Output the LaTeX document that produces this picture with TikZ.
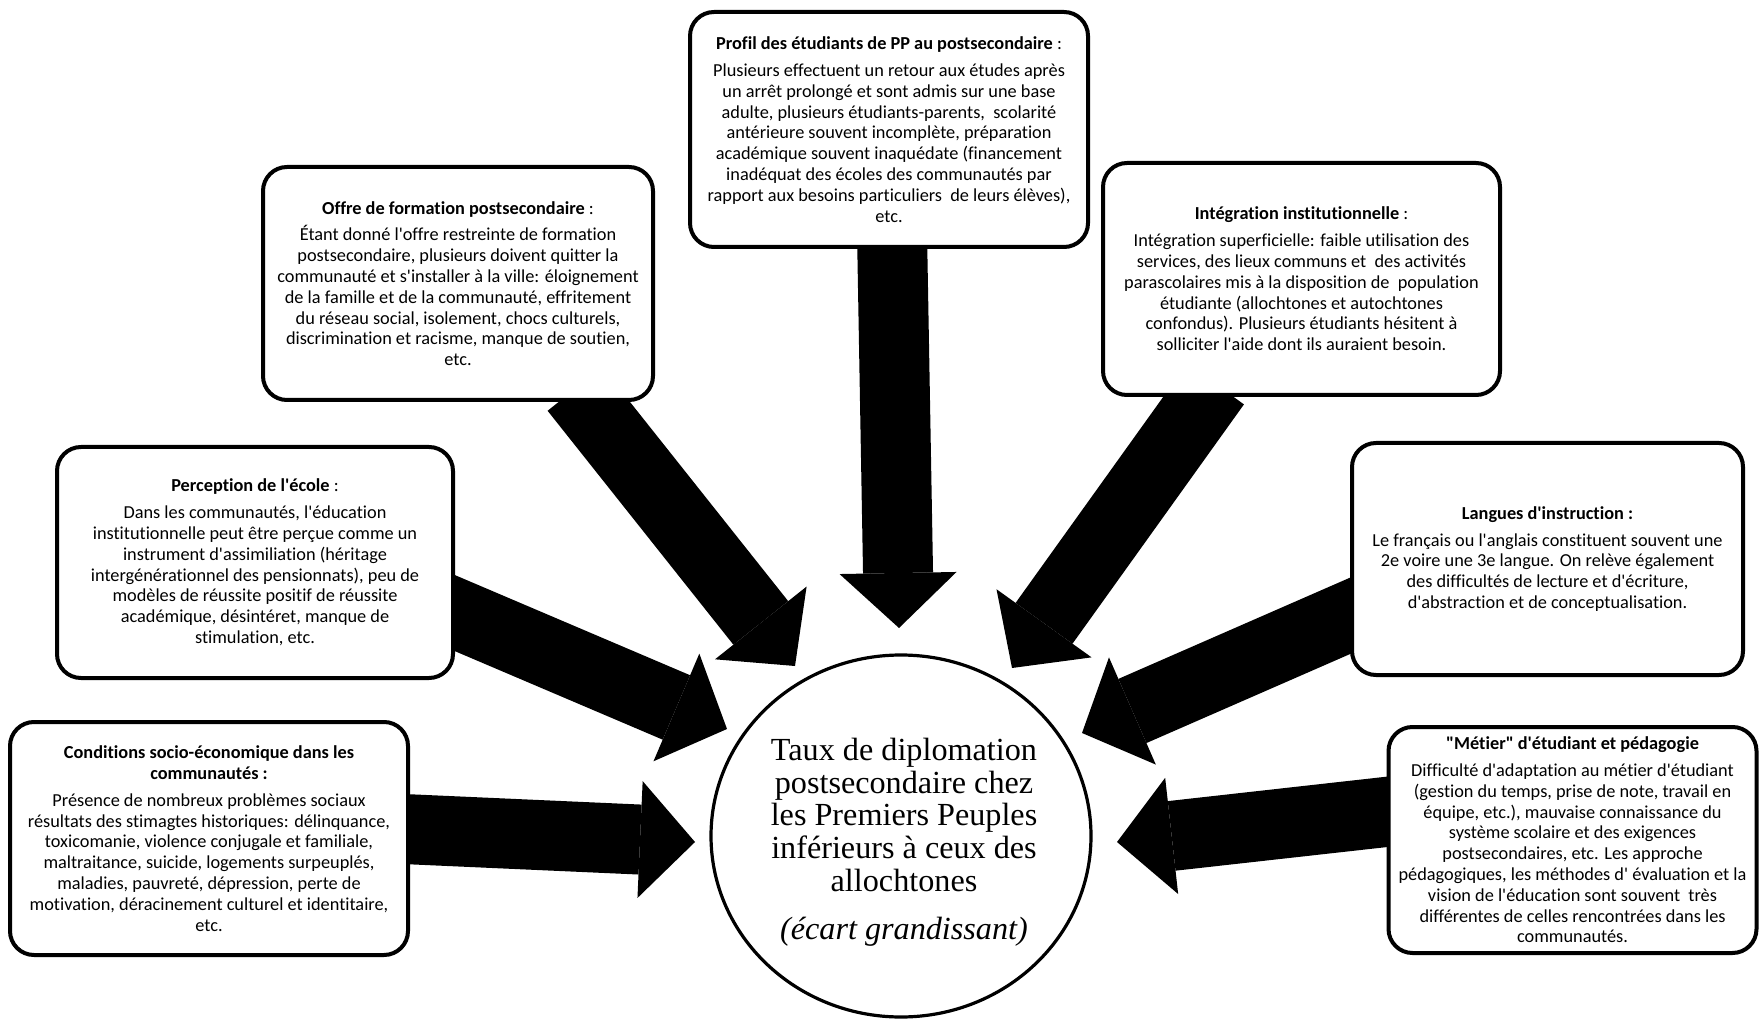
\documentclass[tikz,border=0pt]{standalone}
\usepackage{fontspec}
\setmainfont{Carlito}[Ligatures={TeXOff,NoCommon}]
\newfontfamily\timesfont{Liberation Serif}[Ligatures={TeXOff,NoCommon}]
\usetikzlibrary{shapes.geometric, arrows.meta, calc, backgrounds}

\begin{document}
\begin{tikzpicture}[x=0.5pt, y=-0.5pt,
        factor/.style={draw, line width=2pt, rounded corners=12pt, fill=white, align=center, inner sep=0pt, font=\fontsize{9.15}{10.4}\selectfont},
        bigarrow/.style={line width=35pt, -{Triangle[length=27.5pt, width=58.5pt, line width=0pt]}}]
        \useasboundingbox (0,0) rectangle (1759,1020);

        % --- CENTRE ---
        \node[draw, line width=1.6pt, ellipse, fill=white, minimum width=190pt, minimum height=181pt] (diplo) at (901,836) {};
        \node[align=center, font=\timesfont\fontsize{16.1}{16.4}\selectfont] (diploText) at (904,842) {
            Taux de diplomation\\
            postsecondaire chez\\
            les Premiers Peuples\\
            inférieurs à ceux des\\
            allochtones\\[7.5pt]
            \textit{(écart grandissant)}
        };

        % --- FACTORS ---
        \node[factor, minimum width=199pt, minimum height=117.5pt] (profil) at (889,129.5) {
            \textbf{Profil des étudiants de PP au postsecondaire} :\\[3pt]
            Plusieurs effectuent un retour aux études après\\
            un arrêt prolongé et sont admis sur une base\\
            adulte, plusieurs étudiants-parents, \ scolarité\\
            antérieure souvent incomplète, préparation\\
            académique souvent inaquédate (financement\\
            inadéquat des écoles des communautés par\\
            rapport aux besoins particuliers \ de leurs élèves),\\
            etc.
        };
        \node[factor, minimum width=195pt, minimum height=116.5pt] (offre) at (458,283.5) {
            \textbf{Offre de formation postsecondaire} :\\[3pt]
            Étant donné l'offre restreinte de formation\\
            postsecondaire, plusieurs doivent quitter la\\
            communauté et s'installer à la ville: éloignement\\
            de la famille et de la communauté, effritement\\
            du réseau social, isolement, chocs culturels,\\
            discrimination et racisme, manque de soutien,\\
            etc.
        };
        \node[factor, minimum width=198.5pt, minimum height=116pt] (integ) at (1301.5,279) {
            \textbf{Intégration institutionnelle} :\\[3pt]
            Intégration superficielle: faible utilisation des\\
            services, des lieux communs et \ des activités\\
            parascolaires mis à la disposition de \ population\\
            étudiante (allochtones et autochtones\\
            confondus). Plusieurs étudiants hésitent à\\
            solliciter l'aide dont ils auraient besoin.
        };
        \node[factor, minimum width=198pt, minimum height=115.5pt] (percep) at (255,562.5) {
            \textbf{Perception de l'école} :\\[3pt]
            Dans les communautés, l'éducation\\
            institutionnelle peut être perçue comme un\\
            instrument d'assimiliation (héritage\\
            intergénérationnel des pensionnats), peu de\\
            modèles de réussite positif de réussite\\
            académique, désintéret, manque de\\
            stimulation, etc.
        };
        \node[factor, minimum width=195.5pt, minimum height=116pt] (langues) at (1547.5,559) {
            \textbf{Langues d'instruction :}\\[3pt]
            Le français ou l'anglais constituent souvent une\\
            2e voire une 3e langue. On relève également\\
            des difficultés de lecture et d'écriture,\\
            d'abstraction et de conceptualisation.
        };
        \node[factor, minimum width=199pt, minimum height=116.5pt] (cond) at (209,838.5) {
            \textbf{Conditions socio-économique dans les}\\
            \textbf{communautés :}\\[3pt]
            Présence de nombreux problèmes sociaux\\
            résultats des stimagtes historiques: délinquance,\\
            toxicomanie, violence conjugale et familiale,\\
            maltraitance, suicide, logements surpeuplés,\\
            maladies, pauvreté, dépression, perte de\\
            motivation, déracinement culturel et identitaire,\\
            etc.
        };
        \node[factor, minimum width=184pt, minimum height=113pt] (metier) at (1572.5,840) {
            \textbf{"Métier" d'étudiant et pédagogie}\\[3pt]
            Difficulté d'adaptation au métier d'étudiant\\
            (gestion du temps, prise de note, travail en\\
            équipe, etc.), mauvaise connaissance du\\
            système scolaire et des exigences\\
            postsecondaires, etc. Les approche\\
            pédagogiques, les méthodes d' évaluation et la\\
            vision de l'éducation sont souvent \ très\\
            différentes de celles rencontrées dans les\\
            communautés.
        };

        % --- ARROW TIPS ---
        \coordinate (tipOffre) at (795,666);
        \coordinate (tipProfil) at (899,628);
        \coordinate (tipInteg) at (1012,668);
        \coordinate (tipPercep) at (727,729);
        \coordinate (tipLangues) at (1082,733);
        \coordinate (tipCond) at (695,842);
        \coordinate (tipMetier) at (1117,842);

        % --- ARROWS (behind the boxes) ---
        \begin{pgfonlayer}{background}
            \draw[bigarrow] ($(offre.south)+(117,-13)$) -- (tipOffre);
            \draw[bigarrow] ($(profil.south)+(3,-17)$) -- (tipProfil);
            \draw[bigarrow] ($(integ.south)+(-86,-13)$) -- (tipInteg);
            \draw[bigarrow] ($(percep.east)+(-18,43)$) -- (tipPercep);
            \draw[bigarrow] ($(langues.west)+(18,49)$) -- (tipLangues);
            \draw[bigarrow] ($(cond.east)+(-18,-10)$) -- (tipCond);
            \draw[bigarrow] ($(metier.west)+(17,-30)$) -- (tipMetier);
        \end{pgfonlayer}

    \end{tikzpicture}
\end{document}
